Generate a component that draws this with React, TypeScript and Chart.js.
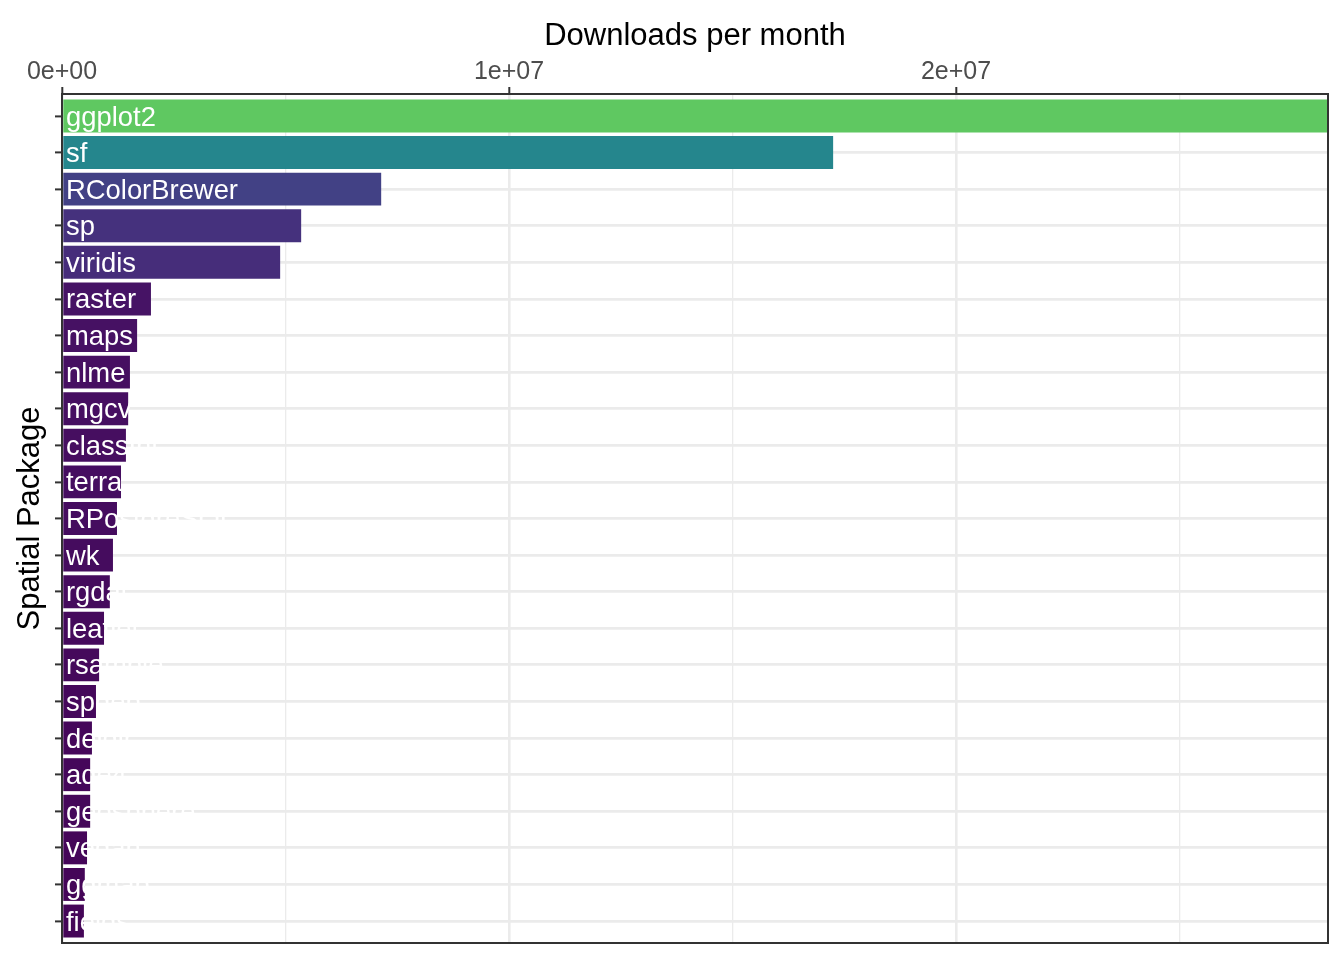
import React, { useEffect, useRef } from "react";
import { Chart, registerables } from "chart.js";

Chart.register(...registerables);

const packages = [
  "ggplot2", "sf", "RColorBrewer", "sp", "viridis", "raster", "maps", "nlme",
  "mgcv", "classInt", "terra", "RPostgreSQL", "wk", "rgdal", "leaflet",
  "rsample", "spdep", "deldir", "ade4", "geosphere", "vegan", "ggmap", "fields",
];
const downloads = [
  28320000, 17250000, 7140000, 5350000, 4880000, 1990000, 1680000, 1520000,
  1480000, 1430000, 1320000, 1230000, 1140000, 1070000, 940000, 830000,
  760000, 670000, 630000, 630000, 560000, 510000, 490000,
];
const xTickValues = [0, 10000000, 20000000];
const xMinorValues = [5000000, 15000000, 25000000];
const xTickLabels = ["0e+00", "1e+07", "2e+07"];
const xMax = 28320000;
const xTitle = "Downloads per month";
const yTitle = "Spatial Package";

const FONT = "'Liberation Sans', Arial, sans-serif";

const viridisStops = [
  "#440154", "#482475", "#414487", "#355F8D", "#2A788E", "#21918C",
  "#22A884", "#44BF70", "#7AD151", "#BDDF26", "#FDE725",
];

function hexToRgb(h: string) {
  const n = parseInt(h.slice(1), 16);
  return [(n >> 16) & 255, (n >> 8) & 255, n & 255];
}

function viridis(t: number) {
  const tt = Math.max(0, Math.min(1, t)) * (viridisStops.length - 1);
  const i = Math.min(Math.floor(tt), viridisStops.length - 2);
  const f = tt - i;
  const a = hexToRgb(viridisStops[i]);
  const b = hexToRgb(viridisStops[i + 1]);
  const c = a.map((v, k) => Math.round(v + (b[k] - v) * f));
  return `rgb(${c[0]},${c[1]},${c[2]})`;
}

const maxVal = Math.max(...downloads);
const barColors = downloads.map((v) => viridis((v / maxVal) * 0.75));

const overlayPlugin = {
  id: "overlay",
  afterDatasetsDraw(chart: any) {
    const { ctx, chartArea } = chart;
    const xs = chart.scales.x;
    const ys = chart.scales.y;
    ctx.save();
    ctx.beginPath();
    ctx.rect(chartArea.left, chartArea.top, chartArea.right - chartArea.left, chartArea.bottom - chartArea.top);
    ctx.clip();
    ctx.fillStyle = "#FFFFFF";
    ctx.font = `27.4px ${FONT}`;
    ctx.textAlign = "left";
    ctx.textBaseline = "middle";
    packages.forEach((name, i) => {
      const x = xs.getPixelForValue(0) + 4;
      const y = ys.getPixelForValue(i);
      ctx.fillText(name, x, y + 2);
    });
    ctx.restore();
  },
  afterDraw(chart: any) {
    const { ctx, chartArea } = chart;
    ctx.save();
    ctx.strokeStyle = "#333333";
    ctx.lineWidth = 2;
    ctx.strokeRect(chartArea.left, chartArea.top, chartArea.right - chartArea.left, chartArea.bottom - chartArea.top);
    ctx.fillStyle = "#000000";
    ctx.font = `31px ${FONT}`;
    ctx.textAlign = "center";
    ctx.textBaseline = "middle";
    ctx.fillText(xTitle, (chartArea.left + chartArea.right) / 2, 36);
    ctx.translate(30, (chartArea.top + chartArea.bottom) / 2);
    ctx.rotate(-Math.PI / 2);
    ctx.fillText(yTitle, 0, 0);
    ctx.restore();
  },
};

export default function App() {
  const ref = useRef<HTMLCanvasElement | null>(null);
  useEffect(() => {
    if (!ref.current) return;
    const chart = new Chart(ref.current, {
      type: "bar",
      data: {
        datasets: [
          {
            data: downloads.map((v, i) => ({ x: v, y: i })) as any,
            backgroundColor: barColors,
            borderWidth: 0,
            barPercentage: 0.9,
            categoryPercentage: 1,
          },
        ],
      },
      options: {
        indexAxis: "y",
        animation: false,
        responsive: false,
        maintainAspectRatio: false,
        layout: { padding: { top: 0, left: 0, right: 16, bottom: 17 } },
        plugins: { legend: { display: false }, tooltip: { enabled: false } },
        scales: {
          x: {
            type: "linear",
            position: "top",
            min: 0,
            max: xMax,
            offset: false,
            afterFit: (s: any) => { s.height = 94; },
            afterBuildTicks: (s: any) => {
              s.ticks = [...xTickValues, ...xMinorValues].sort((a, b) => a - b).map((v) => ({ value: v }));
            },
            border: { display: false },
            grid: {
              offset: false,
              color: "#EBEBEB",
              lineWidth: (c: any) => (c.tick && xTickValues.includes(c.tick.value) ? 2.6 : 1.3),
              drawTicks: true,
              tickLength: 7,
              tickWidth: 2,
              tickColor: (c: any) => (c.tick && xTickValues.includes(c.tick.value) ? "#333333" : "rgba(0,0,0,0)"),
            },
            ticks: {
              autoSkip: false,
              maxRotation: 0,
              padding: 0,
              color: "#4D4D4D",
              font: { family: FONT, size: 25 },
              callback: (v: any) => {
                const k = xTickValues.indexOf(Number(v));
                return k >= 0 ? xTickLabels[k] : "";
              },
            },
          },
          y: {
            type: "linear",
            reverse: true,
            min: -0.6,
            max: packages.length - 1 + 0.6,
            offset: false,
            afterFit: (s: any) => { s.width = 62; },
            afterBuildTicks: (s: any) => {
              s.ticks = packages.map((_, i) => ({ value: i }));
            },
            border: { display: false },
            grid: {
              offset: false,
              color: "#EBEBEB",
              lineWidth: 2.8,
              drawTicks: true,
              tickLength: 7,
              tickWidth: 2,
              tickColor: "#333333",
            },
            ticks: {
              autoSkip: false,
              display: false,
            },
          },
        },
      },
      plugins: [overlayPlugin],
    });
    return () => chart.destroy();
  }, []);
  return (
    <div style={{ position: "fixed", left: 0, top: 0, width: 1344, height: 960, background: "#FFFFFF" }}>
      <canvas ref={ref} width={1344} height={960} style={{ width: 1344, height: 960, display: "block" }} />
    </div>
  );
}
